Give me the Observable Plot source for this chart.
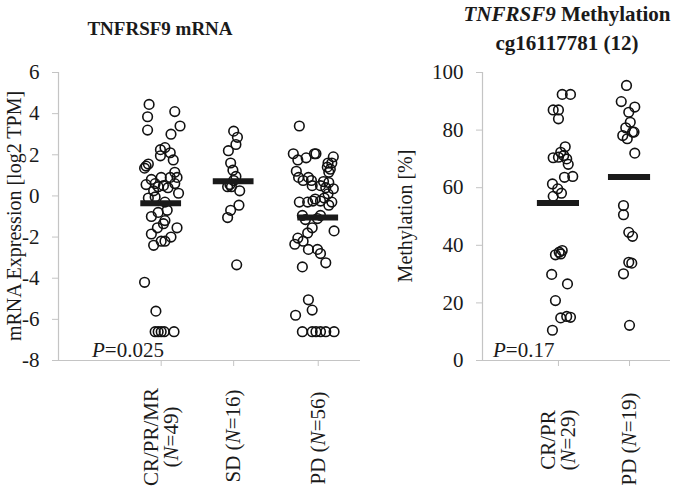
<!DOCTYPE html>
<html><head><meta charset="utf-8">
<script src="https://cdn.jsdelivr.net/npm/d3@7"></script>
<script src="https://cdn.jsdelivr.net/npm/@observablehq/plot@0.6"></script>
<style>
body{margin:0;background:#fff;}
#root{position:relative;width:683px;height:492px;overflow:hidden;font-family:"Liberation Serif","Times New Roman",serif;color:#1a1a1a;background:#fff;}
.abs{position:absolute;white-space:nowrap;line-height:1;}
.ctr{transform:translate(-50%,-50%);}
.rot{transform:translate(-50%,-50%) rotate(-90deg);text-align:center;}
svg{position:absolute;top:0;}
svg, svg text{font-family:"Liberation Serif","Times New Roman",serif !important;}
</style></head><body><div id="root"></div><script>
// ---- Left panel: TNFRSF9 mRNA ----
const mrnaGroups = ["CR/PR/MR", "SD", "PD"];
const mrnaN = [49, 16, 56];
const mrnaCenters = [1.36, 2.32, 3.44];
const mrnaTicks = [-8, -6, -4, -2, 0, 2, 4, 6];
const crValues = [4.45,4.1,3.85,3.4,3.2,3.0,2.35,2.25,2.1,1.95,1.75,1.55,1.35,1.45,1.15,0.8,0.9,0.9,0.9,0.55,0.6,0.4,0.6,0.13,0.25,0.45,-0.1,-0.05,-0.7,-1.0,-1.2,-1.35,-1.55,-1.55,-1.85,-2.2,-2.2,-2.4,-4.2,-5.6,-6.6,-6.6,-6.6,-6.6,-6.6,-2.0,-0.3,0.5,-0.8];
const crJitter = [-16,18,-18,25,-18,13,5,-1,12,-1,16,-17,-22,-20,18,-13,0,12,21,-20,-8,9,18,23,-10,-4,-17,-8,8,-13,5,3,-5,21,-13,0,5,-10,-22,-7,-8,-4,0,4,17,13,5,3,-4];
const sdValues = [3.15,2.85,2.5,2.2,1.6,1.25,0.95,0.75,0.55,0.45,0.45,0.25,-0.45,-0.7,-1.05,-3.35];
const sdJitter = [0,5,3,-7,-4,-1,3,0,-5,-8,-3,8,7,-4,-8,4];
const pdValues = [3.4,2.05,1.75,1.85,2.05,2.05,1.6,1.6,1.4,1.2,1.15,0.9,0.75,0.75,0.7,0.5,0.65,0.35,0.4,-0.3,-0.3,-0.25,-0.25,-0.1,-0.3,-0.45,-0.95,-1.15,-1.55,-0.95,-1.1,-1.7,-1.8,-2.05,-2.35,-2.2,-2.6,-2.6,-2.8,-3.25,-3.45,-5.05,-5.55,-5.8,-6.6,-6.6,-6.6,-6.6,-6.6,-6.6,1.9,1.3,0.9,0.5,0.1,-0.15];
const pdJitter = [-25,-33,-27,-16,-5,-3,13,18,12,-29,14,-26,-20,-9,7,3,14,20,10,-25,-14,-7,3,8,18,14,-21,-17,-8,3,-1,21,-14,-27,-31,-20,-13,-1,3,10,-21,-13,-8,-30,-21,-8,-3,3,10,21,20,16,-13,-8,13,-4];

// ---- Right panel: TNFRSF9 Methylation ----
const methGroups = ["CR/PR", "PD"];
const methN = [29, 19];
const methCenters = [1.01, 1.955];
const methTicks = [0, 20, 40, 60, 80, 100];
const mcrValues = [10.5,14.8,15.3,15.0,20.8,26.6,29.9,36.7,37.6,38.2,37.0,57.0,59.6,61.3,58.1,63.6,63.9,68.1,70.4,70.6,70.0,72.3,71.2,74.2,83.9,87.0,87.0,92.4,92.4];
const mcrJitter = [-8,3,11,16,-4,12,-9,-4,1,5,3,-7,-1,-8,4,8,19,13,-7,0,11,3,7,9,0,-7,0,5,16];
const mpdValues = [95.5,89.9,88.0,86.2,82.7,80.8,79.3,79.3,78.1,77.0,72.0,53.8,50.6,44.5,43.1,34.1,33.8,30.1,12.2];
const mpdJitter = [-4,-11,7,-1,1,-5,4,6,-9,-3,7,-8,-8,-1,4,-1,3,-8,0];

const GRAY = "#c4c4c4";
const INK = "#1a1a1a";

function panel({centers, values, jitter, ticks, yDomain, xDomain, width, marginLeft, marginRight, halfBar}) {
  const pts = centers.flatMap((c, i) => values[i].map((v, j) => ({x: c + jitter[i][j] / 100, y: v})));
  const means = centers.map((c, i) => ({x1: c - halfBar, x2: c + halfBar, y: d3.mean(values[i])}));
  return Plot.plot({
    width, height: 492, marginLeft, marginRight, marginTop: 72, marginBottom: 132,
    x: {domain: xDomain, axis: null},
    y: {domain: yDomain, axis: null},
    style: {fontFamily: "'Liberation Serif', serif", background: "transparent", color: INK, overflow: "visible"},
    marks: [
      Plot.ruleX([xDomain[0]], {stroke: GRAY, strokeWidth: 1.2}),
      Plot.ruleY([yDomain[0]], {stroke: GRAY, strokeWidth: 1.2}),
      Plot.axisY({ticks, tickSize: 6, tickPadding: 13, stroke: GRAY, fill: INK, fontSize: 21, label: null, tickFormat: d => String(d)}),
      Plot.axisX({ticks: centers, tickSize: 6, stroke: GRAY, label: null, tickFormat: () => ""}),
      Plot.dot(pts, {x: "x", y: "y", r: 4.8, stroke: "#111", strokeWidth: 1.6, fill: "none"}),
      Plot.ruleY(means, {x1: "x1", x2: "x2", y: "y", stroke: INK, strokeWidth: 6})
    ]
  });
}

const root = document.getElementById("root");
const LEFT_X = 0, RIGHT_X = 390;

const left = panel({centers: mrnaCenters, values: [crValues, sdValues, pdValues], jitter: [crJitter, sdJitter, pdJitter],
  ticks: mrnaTicks, yDomain: [-8, 6], xDomain: [0, 4], width: 370, marginLeft: 58, marginRight: 10, halfBar: 0.27});
left.style.left = LEFT_X + "px";
root.appendChild(left);

const right = panel({centers: methCenters, values: [mcrValues, mpdValues], jitter: [mcrJitter, mpdJitter],
  ticks: methTicks, yDomain: [0, 100], xDomain: [0, 2.5], width: 293, marginLeft: 92, marginRight: 13, halfBar: 0.28});
right.style.left = RIGHT_X + "px";
root.appendChild(right);

function add(html, cls, x, y, style) {
  const d = document.createElement("div");
  d.className = "abs " + cls;
  d.innerHTML = html;
  d.style.left = x + "px";
  d.style.top = y + "px";
  Object.assign(d.style, style || {});
  root.appendChild(d);
  return d;
}

// titles
add("TNFRSF9 mRNA", "ctr", 160, 28, {fontWeight: "bold", fontSize: "19px"});
add("<i>TNFRSF9</i> Methylation", "ctr", 567, 14, {fontWeight: "bold", fontSize: "21px"});
add("cg16117781 (12)", "ctr", 567, 43, {fontWeight: "bold", fontSize: "21px"});

// axis titles
add("mRNA Expression [log2 TPM]", "rot", 14, 216, {fontSize: "20px"});
add("Methylation [%]", "rot", 405, 216, {fontSize: "20px"});

// p-values
add("<i>P</i>=0.025", "", 92, 340, {fontSize: "21px"});
add("<i>P</i>=0.17", "", 493, 340, {fontSize: "21px"});

// category labels
const sxL = left.scale("x"), sxR = right.scale("x");
function catLabel(name, n, x, y, twoLine) {
  const html = twoLine ? `${name}<br>(<i>N</i>=${n})` : `${name} (<i>N</i>=${n})`;
  add(html, "rot", x, y, {fontSize: "21px", lineHeight: "20px"});
}
catLabel(mrnaGroups[0], mrnaN[0], LEFT_X + sxL.apply(mrnaCenters[0]), 437, true);
catLabel(mrnaGroups[1], mrnaN[1], LEFT_X + sxL.apply(mrnaCenters[1]), 436, false);
catLabel(mrnaGroups[2], mrnaN[2], LEFT_X + sxL.apply(mrnaCenters[2]), 438, false);
catLabel(methGroups[0], methN[0], RIGHT_X + sxR.apply(methCenters[0]), 440, true);
catLabel(methGroups[1], methN[1], RIGHT_X + sxR.apply(methCenters[1]), 439, false);
</script></body></html>
